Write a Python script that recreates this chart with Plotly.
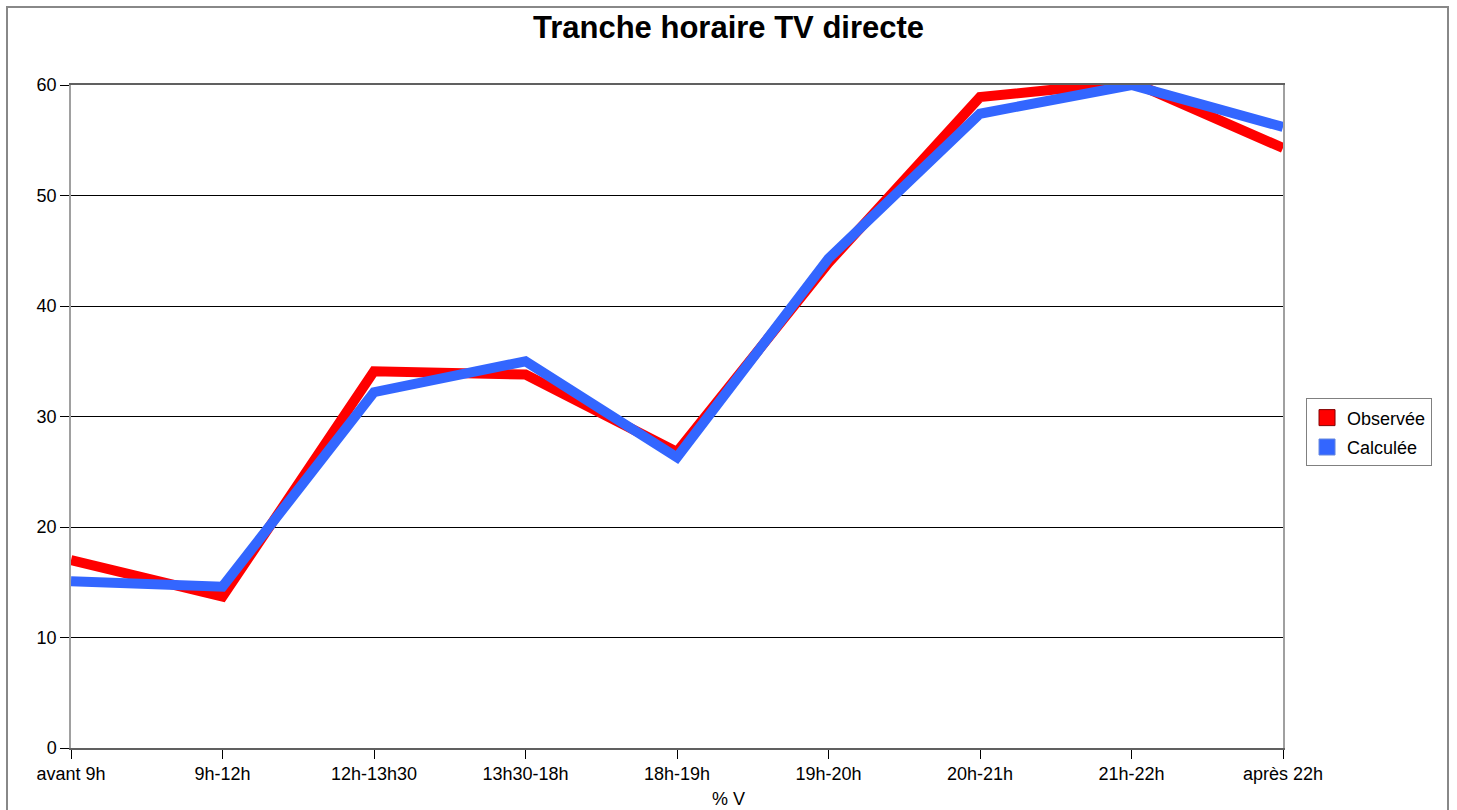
import plotly.graph_objects as go

categories = ["avant 9h", "9h-12h", "12h-13h30", "13h30-18h", "18h-19h",
              "19h-20h", "20h-21h", "21h-22h", "après 22h"]
observee = [17.0, 13.7, 34.1, 33.8, 26.8, 43.9, 58.9, 60.3, 54.3]
calculee = [15.1, 14.6, 32.2, 35.0, 26.3, 44.3, 57.4, 60.0, 56.2]
y_ticks = [0, 10, 20, 30, 40, 50, 60]

RED = "#FF0000"
BLUE = "#3366FF"
FONT = "Liberation Sans, Arial, sans-serif"

fig = go.Figure()
fig.add_trace(go.Scatter(x=categories, y=observee, mode="lines", name="Observée",
                         line=dict(color=RED, width=10), showlegend=False))
fig.add_trace(go.Scatter(x=categories, y=calculee, mode="lines", name="Calculée",
                         line=dict(color=BLUE, width=10), showlegend=False))
# legend entries with square swatches
fig.add_trace(go.Scatter(x=[None], y=[None], mode="markers", name="Observée",
                         legendgroup="obs",
                         marker=dict(symbol="square", size=23, color=RED,
                                     line=dict(color="#800000", width=1))))
fig.add_trace(go.Scatter(x=[None], y=[None], mode="markers", name="Calculée",
                         legendgroup="calc",
                         marker=dict(symbol="square", size=23, color=BLUE,
                                     line=dict(color="#6688dd", width=1))))

fig.update_layout(
    width=1457, height=810,
    margin=dict(l=71, r=174, t=85, b=62),
    paper_bgcolor="white", plot_bgcolor="white",
    font=dict(family=FONT, size=18, color="black"),
    title=dict(text="<b>Tranche horaire TV directe</b>", x=0.5, xanchor="center",
               y=0.966, yanchor="middle", font=dict(size=31, family=FONT)),
    legend=dict(x=1.019, y=0.476, xanchor="left", yanchor="middle",
                bordercolor="#808080", borderwidth=1, bgcolor="white",
                font=dict(size=18, family=FONT), itemsizing="trace",
                tracegroupgap=3),
    showlegend=True,
    annotations=[dict(text="% V", xref="paper", yref="paper",
                      x=(728 - 71) / 1212, y=(748 - 799) / 663,
                      xanchor="center", yanchor="middle",
                      showarrow=False, font=dict(size=18, family=FONT))],
)
fig.update_xaxes(
    type="category", range=[0, len(categories) - 1], automargin=False,
    showgrid=False, showline=True, linecolor="#606060", linewidth=1.5,
    mirror=True, ticks="outside", ticklen=9, tickcolor="black",
    tickfont=dict(size=18), zeroline=False,
)
fig.update_yaxes(
    range=[0, 60], tickvals=y_ticks, showgrid=True, gridcolor="black",
    gridwidth=1, showline=True, linecolor="#a0a0a0", linewidth=1.5,
    mirror=True, ticks="outside", ticklen=9, tickcolor="black",
    tickfont=dict(size=18), zeroline=False, automargin=False,
)
# outer frame
fig.add_shape(type="rect", xref="paper", yref="paper",
              x0=(7 - 71) / 1212, x1=(1448 - 71) / 1212,
              y0=(748 - 830) / 663, y1=(748 - 7) / 663,
              line=dict(color="#888888", width=2), layer="below")

fig.write_html("out.html", config={"displayModeBar": False},
               post_script="document.body.style.margin='0';")
